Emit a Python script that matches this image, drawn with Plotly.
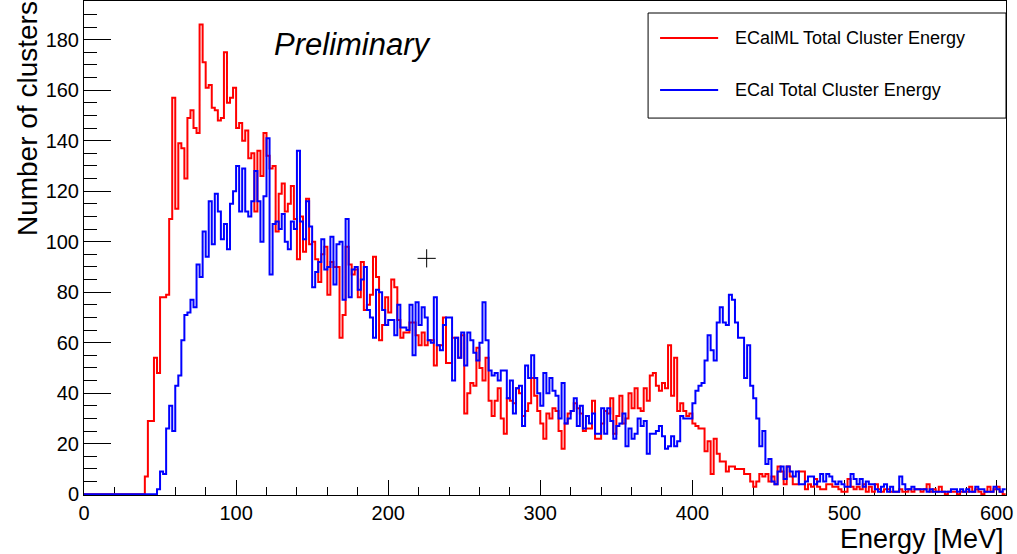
import plotly.graph_objects as go

# ---------------- data ----------------
bin_width = 2.0          # MeV
x_min, x_max = 0.0, 606.0

ecalml_counts = [
    0, 0, 0, 0, 0, 0, 0, 0, 0, 0,
    0, 0, 0, 0, 0, 0, 0, 0, 0, 0,
    7, 29, 29, 54, 48, 78, 78, 79, 109, 157,
    113, 139, 137, 125, 149, 152, 145, 143, 186, 171,
    161, 162, 153, 152, 148, 149, 175, 155, 157, 161,
    145, 147, 140, 144, 133, 135, 112, 136, 126, 143,
    134, 129, 130, 104, 119, 123, 112, 115, 122, 109,
    93, 110, 96, 117, 99, 100, 93, 84, 95, 98,
    79, 92, 90, 90, 62, 71, 98, 91, 87, 89,
    78, 92, 73, 75, 79, 94, 86, 61, 67, 78,
    72, 85, 82, 69, 62, 64, 64, 68, 68, 63,
    59, 64, 59, 61, 61, 51, 59, 59, 70, 52,
    52, 62, 62, 54, 63, 32, 40, 44, 43, 58,
    50, 45, 54, 37, 31, 37, 42, 30, 24, 38,
    37, 36, 42, 40, 31, 33, 36, 46, 39, 33,
    28, 22, 32, 30, 34, 33, 25, 18, 28, 32,
    33, 36, 34, 32, 25, 26, 26, 37, 22, 22,
    28, 33, 32, 38, 24, 31, 39, 28, 30, 40,
    34, 42, 34, 33, 42, 37, 47, 48, 43, 41,
    44, 42, 59, 39, 54, 33, 36, 33, 31, 32,
    28, 27, 26, 26, 17, 21, 8, 22, 16, 13,
    13, 9, 11, 11, 10, 10, 10, 8, 8, 5,
    3, 5, 8, 7, 8, 5, 7, 4, 11, 9,
    4, 11, 7, 4, 4, 9, 9, 2, 4, 3,
    6, 3, 2, 2, 4, 4, 3, 3, 2, 1,
    1, 6, 3, 2, 3, 2, 4, 1, 3, 1,
    4, 2, 1, 2, 2, 1, 1, 1, 2, 1,
    1, 2, 1, 2, 2, 1, 2, 4, 1, 2,
    1, 3, 1, 0, 1, 1, 1, 0, 1, 1,
    1, 3, 1, 2, 1, 0, 1, 3, 1, 2,
    3, 1, 0,
]

ecal_counts = [
    0, 0, 0, 0, 0, 0, 0, 0, 0, 0,
    0, 0, 0, 0, 0, 0, 0, 0, 0, 0,
    0, 0, 0, 0, 2, 9, 8, 26, 35, 25,
    43, 47, 61, 71, 72, 77, 74, 91, 86, 104,
    94, 116, 99, 119, 112, 101, 107, 97, 115, 120,
    130, 112, 129, 112, 110, 116, 128, 116, 100, 118,
    141, 87, 107, 108, 105, 111, 100, 97, 108, 105,
    136, 108, 101, 116, 106, 82, 88, 92, 101, 89,
    90, 102, 83, 99, 100, 77, 109, 78, 89, 90,
    81, 85, 90, 73, 70, 62, 81, 80, 73, 67,
    69, 69, 63, 75, 66, 66, 65, 75, 55, 76,
    67, 74, 70, 61, 60, 78, 59, 57, 67, 70,
    70, 45, 62, 54, 64, 51, 64, 61, 56, 53,
    60, 76, 61, 49, 47, 48, 45, 49, 49, 38,
    45, 32, 42, 43, 27, 51, 46, 55, 46, 40,
    35, 48, 40, 46, 41, 39, 30, 44, 28, 30,
    33, 38, 27, 35, 26, 31, 28, 32, 24, 24,
    34, 24, 34, 29, 22, 27, 28, 32, 19, 26,
    22, 24, 30, 27, 29, 16, 24, 24, 25, 27,
    23, 18, 19, 23, 19, 21, 31, 30, 30, 30,
    36, 41, 43, 44, 53, 63, 57, 53, 68, 74,
    68, 67, 79, 77, 68, 62, 62, 46, 59, 43,
    38, 30, 19, 25, 12, 14, 5, 4, 9, 11,
    6, 11, 9, 7, 9, 4, 4, 5, 7, 7,
    4, 5, 8, 5, 8, 7, 5, 4, 5, 4,
    3, 3, 8, 6, 4, 6, 3, 5, 4, 4,
    2, 1, 3, 4, 1, 3, 1, 1, 7, 4,
    2, 2, 3, 2, 2, 2, 2, 1, 2, 1,
    1, 1, 1, 1, 1, 2, 2, 1, 2, 1,
    2, 1, 1, 3, 2, 2, 1, 1, 1, 3,
    2, 1, 2,
]

series_names = ["ECalML Total Cluster Energy", "ECal Total Cluster Energy"]
series_colors = ["#ff0000", "#0000ff"]

# stray marker drawn on the canvas
marker_x = [225.3]
marker_y = [93.4]

x_tick_vals = [0, 100, 200, 300, 400, 500, 600]
y_tick_vals = [0, 20, 40, 60, 80, 100, 120, 140, 160, 180]

x_title = "Energy [MeV]"
y_title = "Number of clusters"
label_text = "Preliminary"

# ---------------- figure ----------------
FONT = "Liberation Sans, Arial, Helvetica, sans-serif"


def step_xy(counts):
    n = len(counts)
    xs = [x_min + i * bin_width for i in range(n)] + [x_min + n * bin_width]
    ys = list(counts) + [counts[-1]]
    return xs, ys


fig = go.Figure()
for counts, name, color in zip([ecalml_counts, ecal_counts], series_names, series_colors):
    xs, ys = step_xy(counts)
    fig.add_trace(go.Scatter(
        x=xs, y=ys, mode="lines", name=name,
        line=dict(color=color, width=2, shape="hv"),
        showlegend=False, hoverinfo="skip",
    ))

fig.add_trace(go.Scatter(
    x=marker_x, y=marker_y, mode="markers",
    marker=dict(symbol="cross-thin", size=13, color="black",
                line=dict(width=1, color="black")),
    showlegend=False, hoverinfo="skip",
))

y_top = max(max(ecalml_counts), max(ecal_counts)) * 1.05

fig.update_layout(
    width=1017, height=554,
    margin=dict(l=84, r=11, t=1, b=59),
    paper_bgcolor="white", plot_bgcolor="white",
    font=dict(family=FONT, size=20, color="black"),
    xaxis=dict(
        range=[x_min, x_max + 0.2],
        tickvals=x_tick_vals, ticks="inside", ticklen=15, tickwidth=1,
        tickcolor="black",
        minor=dict(ticks="inside", ticklen=8, dtick=20, tick0=0,
                   tickcolor="black", tickwidth=1),
        showgrid=False, zeroline=False,
        showline=True, linecolor="black", linewidth=1, mirror=True,
        tickfont=dict(size=20, family=FONT),
        layer="below traces",
    ),
    yaxis=dict(
        range=[-0.3, y_top],
        tickvals=y_tick_vals, ticks="inside", ticklen=27, tickwidth=1,
        tickcolor="black",
        minor=dict(ticks="inside", ticklen=13, dtick=5, tick0=0,
                   tickcolor="black", tickwidth=1),
        showgrid=False, zeroline=False,
        showline=True, linecolor="black", linewidth=1, mirror=True,
        tickfont=dict(size=20, family=FONT),
        layer="below traces",
    ),
)

# axis titles (ROOT style: right / top aligned)
fig.add_annotation(
    text=x_title, xref="paper", yref="paper", x=1.0, y=-0.089,
    xanchor="right", yanchor="middle", showarrow=False,
    font=dict(size=27, family=FONT, color="black"),
)
fig.add_annotation(
    text=y_title, xref="paper", yref="paper", x=-0.0618, y=0.761,
    xanchor="center", yanchor="middle", textangle=-90, showarrow=False,
    font=dict(size=28, family=FONT, color="black"),
)
fig.add_annotation(
    text="<i>" + label_text + "</i>", xref="paper", yref="paper",
    x=0.2916, y=0.911, xanchor="center", yanchor="middle", showarrow=False,
    font=dict(size=31, family=FONT, color="black"),
)

# legend box (ROOT TLegend look)
leg_x0, leg_x1, leg_y0, leg_y1 = 0.6118, 1.0, 0.763, 0.9757
fig.add_shape(type="rect", xref="paper", yref="paper",
              x0=leg_x0, x1=leg_x1, y0=leg_y0, y1=leg_y1,
              line=dict(color="black", width=1), fillcolor="white")
for name, color, yy in zip(series_names, series_colors, [0.9251, 0.8198]):
    fig.add_shape(type="line", xref="paper", yref="paper",
                  x0=0.6248, x1=0.6878, y0=yy, y1=yy,
                  line=dict(color=color, width=2))
    fig.add_annotation(text=name, xref="paper", yref="paper",
                       x=0.7041, y=yy, xanchor="left", yanchor="middle",
                       showarrow=False,
                       font=dict(size=18, family=FONT, color="black"))

fig.write_html("out.html")
